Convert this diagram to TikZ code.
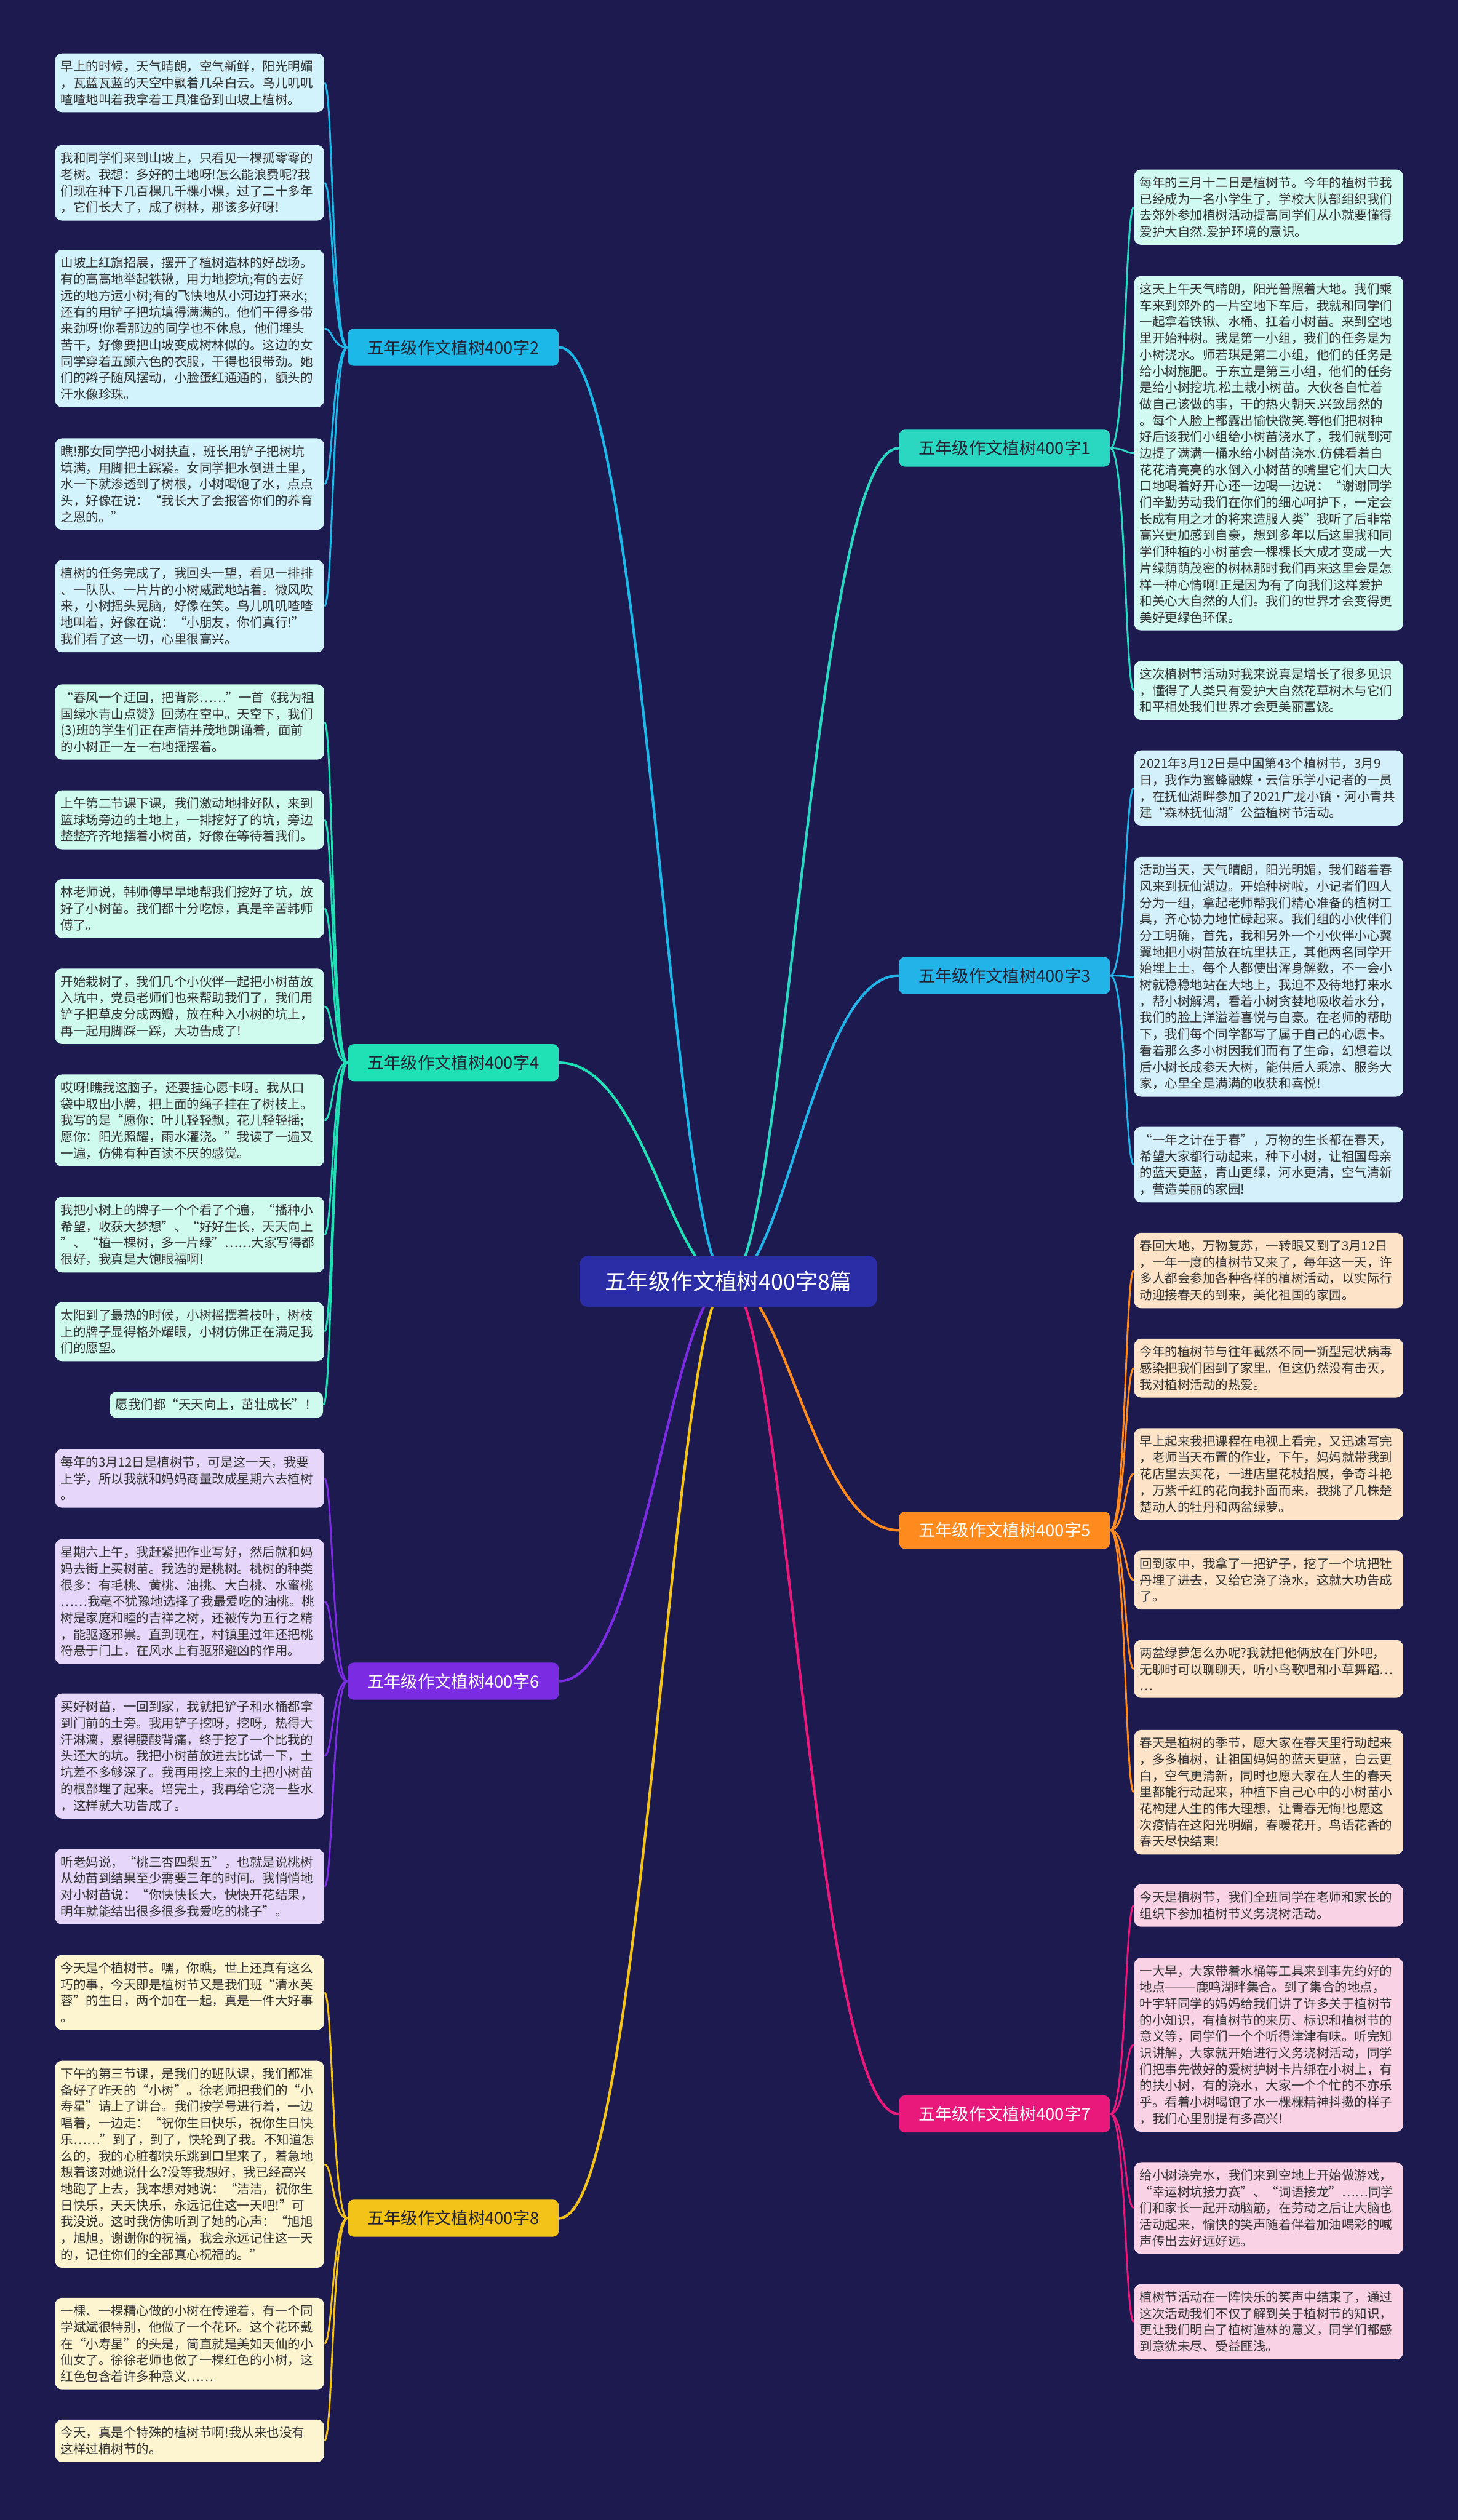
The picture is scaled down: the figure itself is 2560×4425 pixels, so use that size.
\documentclass[tikz,border=0pt]{standalone}
\usepackage{fontspec}
\setmainfont{Noto Sans CJK SC}

\definecolor{bgnavy}{HTML}{1C1A4E}
\definecolor{rootblue}{HTML}{2B2DA6}
\definecolor{leaftext}{HTML}{333333}
\definecolor{labeldark}{HTML}{222233}
\definecolor{c1}{HTML}{2AD8C2}
\definecolor{c2}{HTML}{1CB8E8}
\definecolor{c3}{HTML}{22B4E8}
\definecolor{c4}{HTML}{20E0B6}
\definecolor{c5}{HTML}{FF8A1D}
\definecolor{c6}{HTML}{7B2BE2}
\definecolor{c7}{HTML}{E8197B}
\definecolor{c8}{HTML}{F4C31A}
\definecolor{f1}{HTML}{D0FAF2}
\definecolor{f2}{HTML}{D2F3FC}
\definecolor{f3}{HTML}{D4F0FB}
\definecolor{f4}{HTML}{CFFAEE}
\definecolor{f5}{HTML}{FDE4C8}
\definecolor{f6}{HTML}{E6D6FA}
\definecolor{f7}{HTML}{FAD2E6}
\definecolor{f8}{HTML}{FDF5CF}

\pgfdeclarelayer{back}
\pgfdeclarelayer{lines}
\pgfsetlayers{back,lines,main}

\tikzset{
  leafbox/.style={rounded corners=1.2mm, inner xsep=1mm, inner ysep=1.25mm,
    font=\fontsize{6.3}{8.2}\selectfont, text=leaftext, align=left},
  leafwide/.style={leafbox, text width=4.52cm},
  branch/.style={rounded corners=1mm, minimum width=3.7cm, minimum height=0.65cm,
    inner sep=0pt, font=\fontsize{8.4}{10}\selectfont},
  link/.style={line width=0.9pt},
  mainlink/.style={line width=1.3pt},
}

\begin{document}
\begin{tikzpicture}[x=0.01cm, y=-0.01cm]

\useasboundingbox (0,0) rectangle (2560,4425);
\begin{pgfonlayer}{back}
\fill[bgnavy] (0,0) rectangle (2560,4425);
\end{pgfonlayer}

% centre and branches
\node[fill=rootblue, text=white, rounded corners=1.5mm, minimum width=5.22cm,
  minimum height=0.9cm, font=\fontsize{11}{13}\selectfont] (root) at (1279,2250) {五年级作文植树400字8篇};

\node[branch, fill=c2, text=labeldark] (b2) at (796,610) {五年级作文植树400字2};
\node[branch, fill=c4, text=labeldark] (b4) at (796,1866) {五年级作文植树400字4};
\node[branch, fill=c6, text=white] (b6) at (796,2952) {五年级作文植树400字6};
\node[branch, fill=c8, text=labeldark] (b8) at (796,3895) {五年级作文植树400字8};
\node[branch, fill=c1, text=labeldark] (b1) at (1764,787) {五年级作文植树400字1};
\node[branch, fill=c3, text=labeldark] (b3) at (1764,1713) {五年级作文植树400字3};
\node[branch, fill=c5, text=white] (b5) at (1764,2687) {五年级作文植树400字5};
\node[branch, fill=c7, text=white] (b7) at (1764,3712) {五年级作文植树400字7};

% branch 2
\node[leafwide, fill=f2, anchor=north west] (l2a) at (96,93) {早上的时候，天气晴朗，空气新鲜，阳光明媚\\，瓦蓝瓦蓝的天空中飘着几朵白云。鸟儿叽叽\\喳喳地叫着我拿着工具准备到山坡上植树。};
\node[leafwide, fill=f2, anchor=north west] (l2b) at (96,254) {我和同学们来到山坡上，只看见一棵孤零零的\\老树。我想：多好的土地呀!怎么能浪费呢?我\\们现在种下几百棵几千棵小棵，过了二十多年\\，它们长大了，成了树林，那该多好呀!};
\node[leafwide, fill=f2, anchor=north west] (l2c) at (96,438) {山坡上红旗招展，摆开了植树造林的好战场。\\有的高高地举起铁锹，用力地挖坑;有的去好\\远的地方运小树;有的飞快地从小河边打来水;\\还有的用铲子把坑填得满满的。他们干得多带\\来劲呀!你看那边的同学也不休息，他们埋头\\苦干，好像要把山坡变成树林似的。这边的女\\同学穿着五颜六色的衣服，干得也很带劲。她\\们的辫子随风摆动，小脸蛋红通通的，额头的\\汗水像珍珠。};
\node[leafwide, fill=f2, anchor=north west] (l2d) at (96,769) {瞧!那女同学把小树扶直，班长用铲子把树坑\\填满，用脚把土踩紧。女同学把水倒进土里，\\水一下就渗透到了树根，小树喝饱了水，点点\\头，好像在说：“我长大了会报答你们的养育\\之恩的。”};
\node[leafwide, fill=f2, anchor=north west] (l2e) at (96,983) {植树的任务完成了，我回头一望，看见一排排\\、一队队、一片片的小树威武地站着。微风吹\\来，小树摇头晃脑，好像在笑。鸟儿叽叽喳喳\\地叫着，好像在说：“小朋友，你们真行!”\\我们看了这一切，心里很高兴。};

% branch 4
\node[leafwide, fill=f4, anchor=north west] (l4a) at (96,1201) {“春风一个迂回，把背影……”一首《我为祖\\国绿水青山点赞》回荡在空中。天空下，我们\\(3)班的学生们正在声情并茂地朗诵着，面前\\的小树正一左一右地摇摆着。};
\node[leafwide, fill=f4, anchor=north west] (l4b) at (96,1387) {上午第二节课下课，我们激动地排好队，来到\\篮球场旁边的土地上，一排挖好了的坑，旁边\\整整齐齐地摆着小树苗，好像在等待着我们。};
\node[leafwide, fill=f4, anchor=north west] (l4c) at (96,1543) {林老师说，韩师傅早早地帮我们挖好了坑，放\\好了小树苗。我们都十分吃惊，真是辛苦韩师\\傅了。};
\node[leafwide, fill=f4, anchor=north west] (l4d) at (96,1700) {开始栽树了，我们几个小伙伴一起把小树苗放\\入坑中，党员老师们也来帮助我们了，我们用\\铲子把草皮分成两瓣，放在种入小树的坑上，\\再一起用脚踩一踩，大功告成了!};
\node[leafwide, fill=f4, anchor=north west] (l4e) at (96,1886) {哎呀!瞧我这脑子，还要挂心愿卡呀。我从口\\袋中取出小牌，把上面的绳子挂在了树枝上。\\我写的是“愿你：叶儿轻轻飘，花儿轻轻摇;\\愿你：阳光照耀，雨水灌浇。”我读了一遍又\\一遍，仿佛有种百读不厌的感觉。};
\node[leafwide, fill=f4, anchor=north west] (l4f) at (96,2101) {我把小树上的牌子一个个看了个遍，“播种小\\希望，收获大梦想”、“好好生长，天天向上\\”、“植一棵树，多一片绿”……大家写得都\\很好，我真是大饱眼福啊!};
\node[leafwide, fill=f4, anchor=north west] (l4g) at (96,2286) {太阳到了最热的时候，小树摇摆着枝叶，树枝\\上的牌子显得格外耀眼，小树仿佛正在满足我\\们的愿望。};
\node[leafbox, fill=f4, anchor=north east] (l4h) at (568,2443) {愿我们都“天天向上，茁壮成长”！};

% branch 6
\node[leafwide, fill=f6, anchor=north west] (l6a) at (96,2544) {每年的3月12日是植树节，可是这一天，我要\\上学，所以我就和妈妈商量改成星期六去植树\\。};
\node[leafwide, fill=f6, anchor=north west] (l6b) at (96,2702) {星期六上午，我赶紧把作业写好，然后就和妈\\妈去街上买树苗。我选的是桃树。桃树的种类\\很多：有毛桃、黄桃、油挑、大白桃、水蜜桃\\……我毫不犹豫地选择了我最爱吃的油桃。桃\\树是家庭和睦的吉祥之树，还被传为五行之精\\，能驱逐邪祟。直到现在，村镇里过年还把桃\\符悬于门上，在风水上有驱邪避凶的作用。};
\node[leafwide, fill=f6, anchor=north west] (l6c) at (96,2973) {买好树苗，一回到家，我就把铲子和水桶都拿\\到门前的土旁。我用铲子挖呀，挖呀，热得大\\汗淋漓，累得腰酸背痛，终于挖了一个比我的\\头还大的坑。我把小树苗放进去比试一下，土\\坑差不多够深了。我再用挖上来的土把小树苗\\的根部埋了起来。培完土，我再给它浇一些水\\，这样就大功告成了。};
\node[leafwide, fill=f6, anchor=north west] (l6d) at (96,3246) {听老妈说，“桃三杏四梨五”，也就是说桃树\\从幼苗到结果至少需要三年的时间。我悄悄地\\对小树苗说：“你快快长大，快快开花结果，\\明年就能结出很多很多我爱吃的桃子”。};

% branch 8
\node[leafwide, fill=f8, anchor=north west] (l8a) at (96,3432) {今天是个植树节。嘿，你瞧，世上还真有这么\\巧的事，今天即是植树节又是我们班“清水芙\\蓉”的生日，两个加在一起，真是一件大好事\\。};
\node[leafwide, fill=f8, anchor=north west] (l8b) at (96,3618) {下午的第三节课，是我们的班队课，我们都准\\备好了昨天的“小树”。徐老师把我们的“小\\寿星”请上了讲台。我们按学号进行着，一边\\唱着，一边走：“祝你生日快乐，祝你生日快\\乐……”到了，到了，快轮到了我。不知道怎\\么的，我的心脏都快乐跳到口里来了，着急地\\想着该对她说什么?没等我想好，我已经高兴\\地跑了上去，我本想对她说：“洁洁，祝你生\\日快乐，天天快乐，永远记住这一天吧!”可\\我没说。这时我仿佛听到了她的心声：“旭旭\\，旭旭，谢谢你的祝福，我会永远记住这一天\\的，记住你们的全部真心祝福的。”};
\node[leafwide, fill=f8, anchor=north west] (l8c) at (96,4034) {一棵、一棵精心做的小树在传递着，有一个同\\学斌斌很特别，他做了一个花环。这个花环戴\\在“小寿星”的头是，简直就是美如天仙的小\\仙女了。徐徐老师也做了一棵红色的小树，这\\红色包含着许多种意义……};
\node[leafwide, fill=f8, anchor=north west] (l8d) at (96,4248) {今天，真是个特殊的植树节啊!我从来也没有\\这样过植树节的。};

% branch 1
\node[leafwide, fill=f1, anchor=north west] (l1a) at (1991,297) {每年的三月十二日是植树节。今年的植树节我\\已经成为一名小学生了，学校大队部组织我们\\去郊外参加植树活动提高同学们从小就要懂得\\爱护大自然.爱护环境的意识。};
\node[leafwide, fill=f1, anchor=north west] (l1b) at (1991,484) {这天上午天气晴朗，阳光普照着大地。我们乘\\车来到郊外的一片空地下车后，我就和同学们\\一起拿着铁锹、水桶、扛着小树苗。来到空地\\里开始种树。我是第一小组，我们的任务是为\\小树浇水。师若琪是第二小组，他们的任务是\\给小树施肥。于东立是第三小组，他们的任务\\是给小树挖坑.松土栽小树苗。大伙各自忙着\\做自己该做的事，干的热火朝天.兴致昂然的\\。每个人脸上都露出愉快微笑.等他们把树种\\好后该我们小组给小树苗浇水了，我们就到河\\边提了满满一桶水给小树苗浇水.仿佛看着白\\花花清亮亮的水倒入小树苗的嘴里它们大口大\\口地喝着好开心还一边喝一边说：“谢谢同学\\们辛勤劳动我们在你们的细心呵护下，一定会\\长成有用之才的将来造服人类”我听了后非常\\高兴更加感到自豪，想到多年以后这里我和同\\学们种植的小树苗会一棵棵长大成才变成一大\\片绿荫荫茂密的树林那时我们再来这里会是怎\\样一种心情啊!正是因为有了向我们这样爱护\\和关心大自然的人们。我们的世界才会变得更\\美好更绿色环保。};
\node[leafwide, fill=f1, anchor=north west] (l1c) at (1991,1160) {这次植树节活动对我来说真是增长了很多见识\\，懂得了人类只有爱护大自然花草树木与它们\\和平相处我们世界才会更美丽富饶。};

% branch 3
\node[leafwide, fill=f3, anchor=north west] (l3a) at (1991,1317) {2021年3月12日是中国第43个植树节，3月9\\日，我作为蜜蜂融媒·云信乐学小记者的一员\\，在抚仙湖畔参加了2021广龙小镇·河小青共\\建“森林抚仙湖”公益植树节活动。};
\node[leafwide, fill=f3, anchor=north west] (l3b) at (1991,1504) {活动当天，天气晴朗，阳光明媚，我们踏着春\\风来到抚仙湖边。开始种树啦，小记者们四人\\分为一组，拿起老师帮我们精心准备的植树工\\具，齐心协力地忙碌起来。我们组的小伙伴们\\分工明确，首先，我和另外一个小伙伴小心翼\\翼地把小树苗放在坑里扶正，其他两名同学开\\始埋上土，每个人都使出浑身解数，不一会小\\树就稳稳地站在大地上，我迫不及待地打来水\\，帮小树解渴，看着小树贪婪地吸收着水分，\\我们的脸上洋溢着喜悦与自豪。在老师的帮助\\下，我们每个同学都写了属于自己的心愿卡。\\看着那么多小树因我们而有了生命，幻想着以\\后小树长成参天大树，能供后人乘凉、服务大\\家，心里全是满满的收获和喜悦!};
\node[leafwide, fill=f3, anchor=north west] (l3c) at (1991,1978) {“一年之计在于春”，万物的生长都在春天，\\希望大家都行动起来，种下小树，让祖国母亲\\的蓝天更蓝，青山更绿，河水更清，空气清新\\，营造美丽的家园!};

% branch 5
\node[leafwide, fill=f5, anchor=north west] (l5a) at (1991,2164) {春回大地，万物复苏，一转眼又到了3月12日\\，一年一度的植树节又来了，每年这一天，许\\多人都会参加各种各样的植树活动，以实际行\\动迎接春天的到来，美化祖国的家园。};
\node[leafwide, fill=f5, anchor=north west] (l5b) at (1991,2350) {今年的植树节与往年截然不同一新型冠状病毒\\感染把我们困到了家里。但这仍然没有击灭，\\我对植树活动的热爱。};
\node[leafwide, fill=f5, anchor=north west] (l5c) at (1991,2507) {早上起来我把课程在电视上看完，又迅速写完\\，老师当天布置的作业，下午，妈妈就带我到\\花店里去买花，一进店里花枝招展，争奇斗艳\\，万紫千红的花向我扑面而来，我挑了几株楚\\楚动人的牡丹和两盆绿萝。};
\node[leafwide, fill=f5, anchor=north west] (l5d) at (1991,2722) {回到家中，我拿了一把铲子，挖了一个坑把牡\\丹埋了进去，又给它浇了浇水，这就大功告成\\了。};
\node[leafwide, fill=f5, anchor=north west] (l5e) at (1991,2879) {两盆绿萝怎么办呢?我就把他俩放在门外吧，\\无聊时可以聊聊天，听小鸟歌唱和小草舞蹈…\\…};
\node[leafwide, fill=f5, anchor=north west] (l5f) at (1991,3037) {春天是植树的季节，愿大家在春天里行动起来\\，多多植树，让祖国妈妈的蓝天更蓝，白云更\\白，空气更清新，同时也愿大家在人生的春天\\里都能行动起来，种植下自己心中的小树苗小\\花构建人生的伟大理想，让青春无悔!也愿这\\次疫情在这阳光明媚，春暖花开，鸟语花香的\\春天尽快结束!};

% branch 7
\node[leafwide, fill=f7, anchor=north west] (l7a) at (1991,3308) {今天是植树节，我们全班同学在老师和家长的\\组织下参加植树节义务浇树活动。};
\node[leafwide, fill=f7, anchor=north west] (l7b) at (1991,3437) {一大早，大家带着水桶等工具来到事先约好的\\地点———鹿鸣湖畔集合。到了集合的地点，\\叶宇轩同学的妈妈给我们讲了许多关于植树节\\的小知识，有植树节的来历、标识和植树节的\\意义等，同学们一个个听得津津有味。听完知\\识讲解，大家就开始进行义务浇树活动，同学\\们把事先做好的爱树护树卡片绑在小树上，有\\的扶小树，有的浇水，大家一个个忙的不亦乐\\乎。看着小树喝饱了水一棵棵精神抖擞的样子\\，我们心里别提有多高兴!};
\node[leafwide, fill=f7, anchor=north west] (l7c) at (1991,3796) {给小树浇完水，我们来到空地上开始做游戏，\\“幸运树坑接力赛”、“词语接龙”……同学\\们和家长一起开动脑筋，在劳动之后让大脑也\\活动起来，愉快的笑声随着伴着加油喝彩的喊\\声传出去好远好远。};
\node[leafwide, fill=f7, anchor=north west] (l7d) at (1991,4010) {植树节活动在一阵快乐的笑声中结束了，通过\\这次活动我们不仅了解到关于植树节的知识，\\更让我们明白了植树造林的意义，同学们都感\\到意犹未尽、受益匪浅。};

\begin{pgfonlayer}{lines}
% centre to branches
\draw[mainlink, c2] (root.center) .. controls +(-100,0) and +(150,0) .. (b2.east);
\draw[mainlink, c4] (root.center) .. controls +(-100,0) and +(150,0) .. (b4.east);
\draw[mainlink, c6] (root.center) .. controls +(-100,0) and +(150,0) .. (b6.east);
\draw[mainlink, c8] (root.center) .. controls +(-100,0) and +(150,0) .. (b8.east);
\draw[mainlink, c1] (root.center) .. controls +(100,0) and +(-150,0) .. (b1.west);
\draw[mainlink, c3] (root.center) .. controls +(100,0) and +(-150,0) .. (b3.west);
\draw[mainlink, c5] (root.center) .. controls +(100,0) and +(-150,0) .. (b5.west);
\draw[mainlink, c7] (root.center) .. controls +(100,0) and +(-150,0) .. (b7.west);

% branches to leaves
\foreach \leaf in {l2a,l2b,l2c,l2d,l2e}
\draw[link, c2] (b2.west) .. controls +(-27,0) and +(15,0) .. (\leaf.east);
\foreach \leaf in {l4a,l4b,l4c,l4d,l4e,l4f,l4g,l4h}
\draw[link, c4] (b4.west) .. controls +(-27,0) and +(15,0) .. (\leaf.east);
\foreach \leaf in {l6a,l6b,l6c,l6d}
\draw[link, c6] (b6.west) .. controls +(-27,0) and +(15,0) .. (\leaf.east);
\foreach \leaf in {l8a,l8b,l8c,l8d}
\draw[link, c8] (b8.west) .. controls +(-27,0) and +(15,0) .. (\leaf.east);
\foreach \leaf in {l1a,l1b,l1c}
\draw[link, c1] (b1.east) .. controls +(27,0) and +(-15,0) .. (\leaf.west);
\foreach \leaf in {l3a,l3b,l3c}
\draw[link, c3] (b3.east) .. controls +(27,0) and +(-15,0) .. (\leaf.west);
\foreach \leaf in {l5a,l5b,l5c,l5d,l5e,l5f}
\draw[link, c5] (b5.east) .. controls +(27,0) and +(-15,0) .. (\leaf.west);
\foreach \leaf in {l7a,l7b,l7c,l7d}
\draw[link, c7] (b7.east) .. controls +(27,0) and +(-15,0) .. (\leaf.west);
\end{pgfonlayer}

\end{tikzpicture}
\end{document}
